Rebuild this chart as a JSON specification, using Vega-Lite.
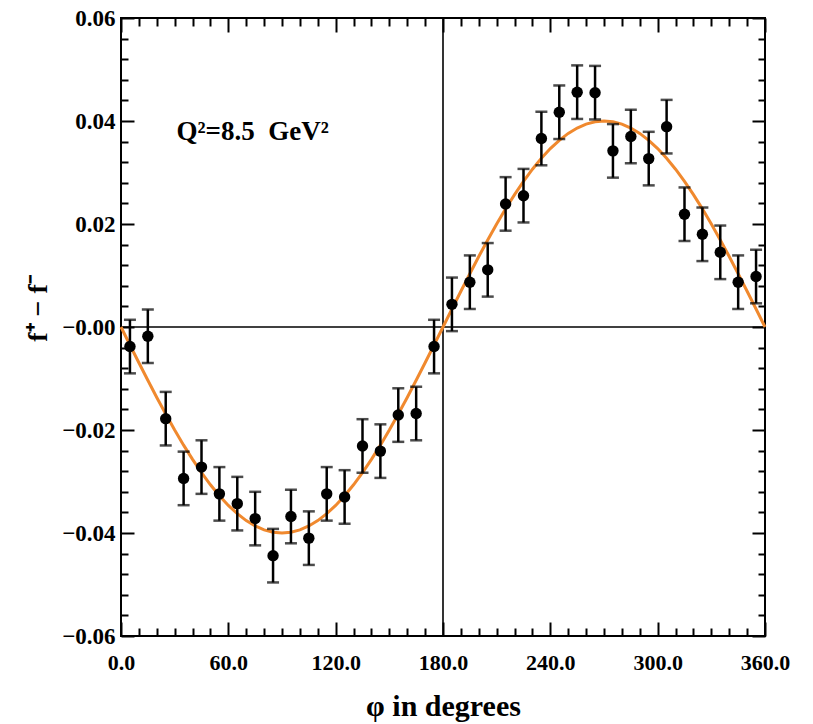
{
  "$schema": "https://vega.github.io/schema/vega-lite/v6.json",
  "width": 644,
  "height": 618,
  "autosize": "none",
  "padding": {"left": 121, "top": 18, "right": 48, "bottom": 88},
  "background": "white",
  "config": {
    "view": {"stroke": "black", "strokeWidth": 2},
    "axis": {
      "domain": false,
      "grid": false,
      "tickColor": "black",
      "tickWidth": 2,
      "labelFont": "Liberation Serif",
      "labelFontWeight": "bold",
      "labelFontSize": 22,
      "labelColor": "black",
      "titleFont": "Liberation Serif",
      "titleFontWeight": "bold",
      "titleColor": "black"
    }
  },
  "datasets": {
    "pts": [
      {"phi": 5, "f": -0.0038, "e": 0.0052},
      {"phi": 15, "f": -0.0018, "e": 0.0052},
      {"phi": 25, "f": -0.0178, "e": 0.0052},
      {"phi": 35, "f": -0.0294, "e": 0.0052},
      {"phi": 45, "f": -0.0272, "e": 0.0052},
      {"phi": 55, "f": -0.0324, "e": 0.0052},
      {"phi": 65, "f": -0.0343, "e": 0.0052},
      {"phi": 75, "f": -0.0372, "e": 0.0052},
      {"phi": 85, "f": -0.0444, "e": 0.0052},
      {"phi": 95, "f": -0.0368, "e": 0.0052},
      {"phi": 105, "f": -0.041, "e": 0.0052},
      {"phi": 115, "f": -0.0324, "e": 0.0052},
      {"phi": 125, "f": -0.033, "e": 0.0052},
      {"phi": 135, "f": -0.0231, "e": 0.0052},
      {"phi": 145, "f": -0.0241, "e": 0.0052},
      {"phi": 155, "f": -0.0171, "e": 0.0052},
      {"phi": 165, "f": -0.0168, "e": 0.0052},
      {"phi": 175, "f": -0.0038, "e": 0.0052},
      {"phi": 185, "f": 0.0044, "e": 0.0052},
      {"phi": 195, "f": 0.0087, "e": 0.0052},
      {"phi": 205, "f": 0.0111, "e": 0.0052},
      {"phi": 215, "f": 0.0239, "e": 0.0052},
      {"phi": 225, "f": 0.0255, "e": 0.0052},
      {"phi": 235, "f": 0.0366, "e": 0.0052},
      {"phi": 245, "f": 0.0417, "e": 0.0052},
      {"phi": 255, "f": 0.0456, "e": 0.0052},
      {"phi": 265, "f": 0.0455, "e": 0.0052},
      {"phi": 275, "f": 0.0342, "e": 0.0052},
      {"phi": 285, "f": 0.037, "e": 0.0052},
      {"phi": 295, "f": 0.0327, "e": 0.0052},
      {"phi": 305, "f": 0.0389, "e": 0.0052},
      {"phi": 315, "f": 0.0219, "e": 0.0052},
      {"phi": 325, "f": 0.018, "e": 0.0052},
      {"phi": 335, "f": 0.0145, "e": 0.0052},
      {"phi": 345, "f": 0.0087, "e": 0.0052},
      {"phi": 355, "f": 0.0098, "e": 0.0052}
    ],
    "curve": [
      {"phi": 0, "f": 0}, {"phi": 5, "f": -0.00349}, {"phi": 10, "f": -0.00695}, {"phi": 15, "f": -0.01035},
      {"phi": 20, "f": -0.01368}, {"phi": 25, "f": -0.0169}, {"phi": 30, "f": -0.02}, {"phi": 35, "f": -0.02294},
      {"phi": 40, "f": -0.02571}, {"phi": 45, "f": -0.02828}, {"phi": 50, "f": -0.03064}, {"phi": 55, "f": -0.03277},
      {"phi": 60, "f": -0.03464}, {"phi": 65, "f": -0.03625}, {"phi": 70, "f": -0.03759}, {"phi": 75, "f": -0.03864},
      {"phi": 80, "f": -0.03939}, {"phi": 85, "f": -0.03985}, {"phi": 90, "f": -0.04}, {"phi": 95, "f": -0.03985},
      {"phi": 100, "f": -0.03939}, {"phi": 105, "f": -0.03864}, {"phi": 110, "f": -0.03759}, {"phi": 115, "f": -0.03625},
      {"phi": 120, "f": -0.03464}, {"phi": 125, "f": -0.03277}, {"phi": 130, "f": -0.03064}, {"phi": 135, "f": -0.02828},
      {"phi": 140, "f": -0.02571}, {"phi": 145, "f": -0.02294}, {"phi": 150, "f": -0.02}, {"phi": 155, "f": -0.0169},
      {"phi": 160, "f": -0.01368}, {"phi": 165, "f": -0.01035}, {"phi": 170, "f": -0.00695}, {"phi": 175, "f": -0.00349},
      {"phi": 180, "f": 0}, {"phi": 185, "f": 0.00349}, {"phi": 190, "f": 0.00695}, {"phi": 195, "f": 0.01035},
      {"phi": 200, "f": 0.01368}, {"phi": 205, "f": 0.0169}, {"phi": 210, "f": 0.02}, {"phi": 215, "f": 0.02294},
      {"phi": 220, "f": 0.02571}, {"phi": 225, "f": 0.02828}, {"phi": 230, "f": 0.03064}, {"phi": 235, "f": 0.03277},
      {"phi": 240, "f": 0.03464}, {"phi": 245, "f": 0.03625}, {"phi": 250, "f": 0.03759}, {"phi": 255, "f": 0.03864},
      {"phi": 260, "f": 0.03939}, {"phi": 265, "f": 0.03985}, {"phi": 270, "f": 0.04}, {"phi": 275, "f": 0.03985},
      {"phi": 280, "f": 0.03939}, {"phi": 285, "f": 0.03864}, {"phi": 290, "f": 0.03759}, {"phi": 295, "f": 0.03625},
      {"phi": 300, "f": 0.03464}, {"phi": 305, "f": 0.03277}, {"phi": 310, "f": 0.03064}, {"phi": 315, "f": 0.02828},
      {"phi": 320, "f": 0.02571}, {"phi": 325, "f": 0.02294}, {"phi": 330, "f": 0.02}, {"phi": 335, "f": 0.0169},
      {"phi": 340, "f": 0.01368}, {"phi": 345, "f": 0.01035}, {"phi": 350, "f": 0.00695}, {"phi": 355, "f": 0.00349},
      {"phi": 360, "f": 0}
    ],
    "vline": [{"phi": 180}],
    "hline": [{"f": 0}],
    "label": [{"phi": 31, "f": 0.0378, "text": "Q²=8.5\u00a0\u00a0GeV²"}]
  },
  "layer": [
    {
      "data": {"name": "vline"},
      "mark": {"type": "rule", "color": "black", "strokeWidth": 1.6},
      "encoding": {
        "x": {
          "field": "phi", "type": "quantitative",
          "scale": {"domain": [0, 360], "nice": false, "zero": false},
          "axis": {
            "orient": "top",
            "values": [0,10,20,30,40,50,60,70,80,90,100,110,120,130,140,150,160,170,180,190,200,210,220,230,240,250,260,270,280,290,300,310,320,330,340,350,360],
            "labels": false,
            "title": null,
            "tickSize": {"condition": {"test": "datum.value % 60 == 0", "value": -14}, "value": -8}
          }
        }
      }
    },
    {
      "data": {"name": "hline"},
      "mark": {"type": "rule", "color": "black", "strokeWidth": 1.6},
      "encoding": {
        "y": {
          "field": "f", "type": "quantitative",
          "scale": {"domain": [-0.06, 0.06], "nice": false, "zero": false},
          "axis": {
            "orient": "right",
            "values": [-0.06,-0.056,-0.052,-0.048,-0.044,-0.04,-0.036,-0.032,-0.028,-0.024,-0.02,-0.016,-0.012,-0.008,-0.004,0,0.004,0.008,0.012,0.016,0.02,0.024,0.028,0.032,0.036,0.04,0.044,0.048,0.052,0.056,0.06],
            "labels": false,
            "title": null,
            "tickSize": {"condition": {"test": "round(datum.value*1000) % 20 == 0", "value": -13}, "value": -7}
          }
        }
      }
    },
    {
      "data": {"name": "curve"},
      "mark": {"type": "line", "color": "#f0892e", "strokeWidth": 3},
      "encoding": {
        "x": {
          "field": "phi", "type": "quantitative",
          "scale": {"domain": [0, 360], "nice": false, "zero": false},
          "axis": {
            "orient": "bottom",
            "values": [0,10,20,30,40,50,60,70,80,90,100,110,120,130,140,150,160,170,180,190,200,210,220,230,240,250,260,270,280,290,300,310,320,330,340,350,360],
            "labelExpr": "datum.value % 60 == 0 ? format(datum.value, '.1f') : ''",
            "tickSize": {"condition": {"test": "datum.value % 60 == 0", "value": -14}, "value": -8},
            "labelPadding": 30,
            "labelFlush": false,
            "labelOverlap": false,
            "title": "φ in degrees",
            "titleFontSize": 30,
            "titlePadding": 12
          }
        },
        "y": {
          "field": "f", "type": "quantitative",
          "scale": {"domain": [-0.06, 0.06], "nice": false, "zero": false},
          "axis": {
            "orient": "left",
            "values": [-0.06,-0.056,-0.052,-0.048,-0.044,-0.04,-0.036,-0.032,-0.028,-0.024,-0.02,-0.016,-0.012,-0.008,-0.004,0,0.004,0.008,0.012,0.016,0.02,0.024,0.028,0.032,0.036,0.04,0.044,0.048,0.052,0.056,0.06],
            "labelExpr": "round(datum.value*1000) % 20 != 0 ? '' : (datum.value > 0.001 ? format(datum.value, '.2f') : '−' + format(abs(datum.value), '.2f'))",
            "tickSize": {"condition": {"test": "round(datum.value*1000) % 20 == 0", "value": -13}, "value": -7},
            "labelPadding": 19,
            "labelFontSize": 23,
            "labelFlush": false,
            "labelOverlap": false,
            "title": "f⁺ − f⁻",
            "titleFontSize": 28,
            "titleX": -83,
            "titleY": 290,
            "titleAngle": -90,
            "titleAlign": "center",
            "titleBaseline": "middle"
          }
        }
      }
    },
    {
      "data": {"name": "pts"},
      "mark": {
        "type": "errorbar",
        "ticks": {"size": 12, "thickness": 2.5, "color": "black"},
        "rule": {"strokeWidth": 2.5, "color": "black"}
      },
      "encoding": {
        "x": {"field": "phi", "type": "quantitative", "axis": null},
        "y": {"field": "f", "type": "quantitative", "axis": null},
        "yError": {"field": "e"}
      }
    },
    {
      "data": {"name": "pts"},
      "mark": {"type": "point", "filled": true, "shape": "circle", "size": 130, "color": "black", "opacity": 1},
      "encoding": {
        "x": {"field": "phi", "type": "quantitative", "axis": null},
        "y": {"field": "f", "type": "quantitative", "axis": null}
      }
    },
    {
      "data": {"name": "label"},
      "mark": {"type": "text", "font": "Liberation Serif", "fontWeight": "bold", "fontSize": 27, "align": "left", "baseline": "middle", "color": "black"},
      "encoding": {
        "x": {"field": "phi", "type": "quantitative", "axis": null},
        "y": {"field": "f", "type": "quantitative", "axis": null},
        "text": {"field": "text"}
      }
    }
  ]
}
